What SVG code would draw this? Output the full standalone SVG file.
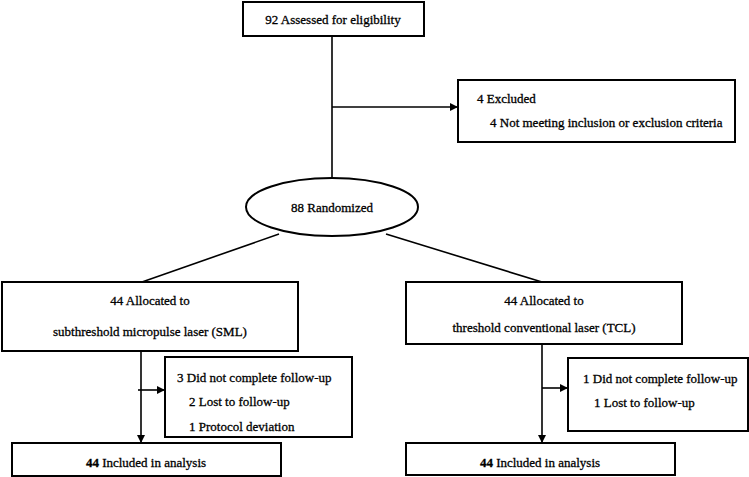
<svg xmlns="http://www.w3.org/2000/svg" width="749" height="477" viewBox="0 0 749 477">
<defs>
<marker id="ah" markerWidth="8" markerHeight="8" refX="7" refY="4" orient="auto" markerUnits="userSpaceOnUse">
<path d="M0,0 L8,4 L0,8 Z" fill="#000"/>
</marker>
<style>
.box{fill:#fff;stroke:#000;stroke-width:2}
.ln{fill:none;stroke:#000;stroke-width:1.6}
.t{font-family:"Liberation Serif","Times New Roman",serif;font-size:13px;fill:#000;stroke:#000;stroke-width:0.3}
.c{text-anchor:middle}
.b{font-weight:bold}
</style>
</defs>
<rect width="749" height="477" fill="#fff"/>
<g id="connectors">
<line class="ln" x1="332" y1="36" x2="332" y2="178"/>
<line class="ln" x1="332" y1="107" x2="457" y2="107" marker-end="url(#ah)"/>
<line class="ln" x1="279" y1="234" x2="142" y2="282"/>
<line class="ln" x1="386" y1="234" x2="542" y2="282"/>
<line class="ln" x1="141" y1="351" x2="141" y2="442" marker-end="url(#ah)"/>
<line class="ln" x1="138" y1="390" x2="164" y2="390" marker-end="url(#ah)"/>
<line class="ln" x1="542" y1="344" x2="542" y2="442" marker-end="url(#ah)"/>
<line class="ln" x1="542" y1="388" x2="567" y2="388" marker-end="url(#ah)"/>
</g>
<g class="t">
<g id="assessed">
<rect class="box" x="243" y="2" width="181" height="34"/>
<text class="c" x="333" y="24">92 Assessed for eligibility</text>
</g>
<g id="excluded">
<rect class="box" x="458" y="80" width="277" height="62"/>
<text x="477" y="103">4 Excluded</text>
<text x="490" y="127">4 Not meeting inclusion or exclusion criteria</text>
</g>
<g id="randomized">
<ellipse class="box" cx="332" cy="207" rx="86" ry="29"/>
<text class="c" x="332" y="212">88 Randomized</text>
</g>
<g id="sml">
<rect class="box" x="2" y="282" width="296" height="69"/>
<text class="c" x="150" y="305">44 Allocated to</text>
<text class="c" x="150" y="336">subthreshold micropulse laser (SML)</text>
</g>
<g id="tcl">
<rect class="box" x="406" y="282" width="276" height="62"/>
<text class="c" x="544" y="305">44 Allocated to</text>
<text class="c" x="544" y="332">threshold conventional laser (TCL)</text>
</g>
<g id="sml-lost">
<rect class="box" x="165" y="357" width="187" height="80"/>
<text x="177" y="382">3 Did not complete follow-up</text>
<text x="189" y="406">2 Lost to follow-up</text>
<text x="189" y="431">1 Protocol deviation</text>
</g>
<g id="tcl-lost">
<rect class="box" x="568" y="358" width="180" height="73"/>
<text x="583" y="383">1 Did not complete follow-up</text>
<text x="594" y="407">1 Lost to follow-up</text>
</g>
<g id="sml-analysis">
<rect class="box" x="12" y="443" width="269" height="33"/>
<text class="c" x="146" y="467"><tspan class="b">44</tspan> Included in analysis</text>
</g>
<g id="tcl-analysis">
<rect class="box" x="406" y="443" width="269" height="32"/>
<text class="c" x="540" y="467"><tspan class="b">44</tspan> Included in analysis</text>
</g>
</g>
</svg>
